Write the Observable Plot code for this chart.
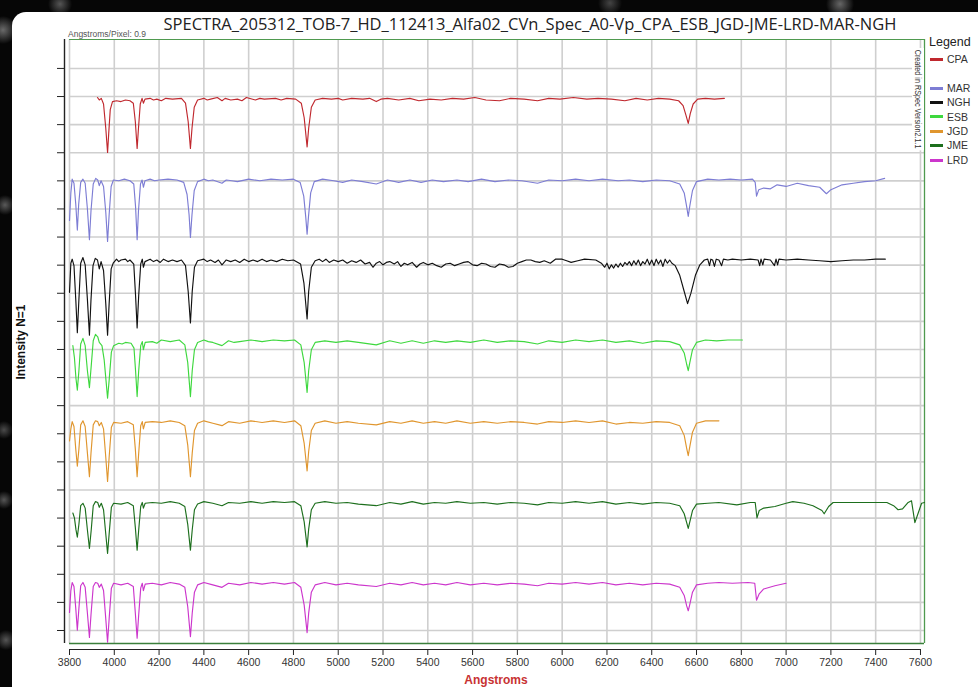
<!DOCTYPE html>
<html>
<head>
<meta charset="utf-8">
<script src="https://cdn.jsdelivr.net/npm/d3@7"></script>
<script src="https://cdn.jsdelivr.net/npm/@observablehq/plot@0.6"></script>
<style>
  html, body { margin: 0; padding: 0; }
  body {
    width: 978px; height: 687px; overflow: hidden; position: relative;
    background:
      radial-gradient(circle at 3px 30px, #6a6a6a 0, rgba(0,0,0,0) 14px),
      radial-gradient(circle at 5px 205px, #5a5a5a 0, rgba(0,0,0,0) 10px),
      radial-gradient(circle at 4px 430px, #4a4a4a 0, rgba(0,0,0,0) 9px),
      radial-gradient(circle at 4px 500px, #555 0, rgba(0,0,0,0) 9px),
      radial-gradient(circle at 6px 640px, #555 0, rgba(0,0,0,0) 10px),
      radial-gradient(circle at 60px 4px, #555 0, rgba(0,0,0,0) 12px),
      radial-gradient(circle at 610px 3px, #444 0, rgba(0,0,0,0) 12px),
      radial-gradient(circle at 840px 4px, #666 0, rgba(0,0,0,0) 14px),
      #060606;
    font-family: "Liberation Sans", Arial, sans-serif;
  }
  #panel { position: absolute; left: 12px; top: 12px; right: 0; bottom: 0; background: #fff; border-top-left-radius: 14px; }
  #chart { position: absolute; left: 0; top: 0; }
  .abs { position: absolute; white-space: nowrap; }
  #title { left: 530px; top: 12px; transform: translateX(-50%); font-family: "Open Sans", sans-serif; font-size: 16.5px; color: #222; }
  #app { left: 68px; top: 29px; font-size: 8.5px; color: #555; }
  #ylab { left: 21px; top: 342px; transform: translate(-50%, -50%) rotate(-90deg); font-weight: bold; font-size: 12px; color: #111; }
  #xlab { left: 496px; top: 673px; transform: translateX(-50%); font-weight: bold; font-size: 12px; color: #c83232; }
  #rspec { left: 912px; top: 48px; writing-mode: vertical-rl; font-size: 8.4px; color: #333; background: #fff; padding: 2px 1px; transform: scaleY(0.86); transform-origin: top; }
  #legtitle { left: 929px; top: 35px; font-size: 12.5px; color: #222; }
  .legitem { left: 930px; font-size: 10.5px; color: #333; }
  .legitem span { display: inline-block; width: 13px; height: 3px; vertical-align: middle; margin-right: 4px; position: relative; top: -1px; }
</style>
</head>
<body>
<div id="panel"></div>
<div id="chart"></div>
<div id="title" class="abs">SPECTRA_205312_TOB-7_HD_112413_Alfa02_CVn_Spec_A0-Vp_CPA_ESB_JGD-JME-LRD-MAR-NGH</div>
<div id="app" class="abs">Angstroms/Pixel: 0.9</div>
<div id="ylab" class="abs">Intensity N=1</div>
<div id="xlab" class="abs">Angstroms</div>
<div id="rspec" class="abs">Created in RSpec Version2.1.1</div>
<div id="legtitle" class="abs">Legend</div>
<div id="legend"></div>
<script>
// ---- series names, colours, vertical offsets ----
const seriesNames = ["CPA", "MAR", "NGH", "ESB", "JGD", "JME", "LRD"];
const seriesColors = ["#c0282e", "#7d7dd4", "#111111", "#3ed83e", "#e0962e", "#1d6f1d", "#cc36cc"];
const seriesOffsets = [6, 5, 4, 3, 2, 1, 0];
const legendSlots = [0, 2, 3, 4, 5, 6, 7];

// ---- x ticks (Angstroms) ----
const xTickValues = [3800,4000,4200,4400,4600,4800,5000,5200,5400,5600,5800,6000,6200,6400,6600,6800,7000,7200,7400,7600];

// ---- spectra: [wavelength (A), normalised intensity] ----
const CPA = [[3925,1.00],[3933,0.97],[3942,0.99],[3952,0.92],[3962,0.62],[3970,0.32],[3975,0.55],[3982,0.85],[3992,0.95],[4010,0.96],[4030,0.95],[4050,0.97],[4070,0.96],[4085,0.93],[4094,0.7],[4102,0.37],[4108,0.62],[4116,0.92],[4124,0.99],[4130,0.93],[4137,0.98],[4160,0.99],[4175,0.97],[4190,0.98],[4210,0.96],[4230,0.99],[4260,0.98],[4300,0.99],[4318,0.93],[4330,0.7],[4340,0.37],[4347,0.62],[4357,0.88],[4372,0.97],[4400,0.99],[4415,0.97],[4430,0.98],[4460,1.00],[4481,0.96],[4495,0.99],[4520,0.97],[4550,0.98],[4570,0.96],[4590,1.00],[4630,0.97],[4650,0.99],[4670,0.98],[4720,0.99],[4745,0.97],[4770,0.99],[4810,0.98],[4835,0.93],[4848,0.75],[4861,0.39],[4868,0.62],[4880,0.88],[4897,0.97],[4930,0.99],[4970,0.98],[5000,0.99],[5020,0.97],[5060,0.99],[5110,0.98],[5140,0.99],[5170,0.95],[5190,0.98],[5220,0.99],[5270,0.97],[5320,0.99],[5360,0.96],[5410,0.98],[5460,0.97],[5510,0.99],[5560,0.98],[5610,1.00],[5660,0.97],[5720,0.96],[5770,0.99],[5830,0.98],[5890,0.96],[5940,0.99],[5990,0.98],[6050,1.00],[6110,0.98],[6160,0.99],[6220,0.98],[6280,0.96],[6330,0.99],[6380,0.97],[6430,0.99],[6480,0.98],[6520,0.96],[6540,0.9],[6553,0.78],[6563,0.68],[6572,0.8],[6585,0.92],[6605,0.98],[6640,0.99],[6680,0.98],[6724,0.99]];

const MAR = [[3800,0.48],[3806,0.82],[3812,0.99],[3820,0.94],[3828,0.68],[3835,0.36],[3841,0.68],[3850,0.95],[3860,0.99],[3870,0.94],[3880,0.62],[3889,0.24],[3896,0.6],[3906,0.93],[3917,1.00],[3926,0.98],[3933,0.91],[3941,0.97],[3952,0.9],[3962,0.58],[3970,0.22],[3977,0.55],[3986,0.9],[3996,0.98],[4020,0.97],[4045,0.99],[4070,0.97],[4087,0.93],[4095,0.65],[4102,0.24],[4108,0.6],[4117,0.93],[4124,0.98],[4130,0.89],[4137,0.97],[4160,0.99],[4180,0.97],[4200,0.98],[4240,0.99],[4280,0.98],[4310,0.95],[4325,0.8],[4334,0.55],[4340,0.27],[4347,0.55],[4357,0.85],[4372,0.96],[4400,0.99],[4420,0.97],[4440,0.98],[4481,0.94],[4500,0.98],[4525,0.97],[4550,0.96],[4600,0.99],[4650,0.97],[4700,0.99],[4750,0.98],[4800,0.99],[4830,0.95],[4846,0.78],[4855,0.52],[4861,0.31],[4867,0.52],[4877,0.82],[4893,0.96],[4930,0.99],[4980,0.97],[5020,0.95],[5060,0.98],[5110,0.96],[5170,0.93],[5220,0.98],[5270,0.95],[5320,0.98],[5370,0.95],[5420,0.98],[5470,0.96],[5530,0.98],[5580,0.96],[5640,0.99],[5700,0.96],[5760,0.98],[5820,0.97],[5890,0.94],[5940,0.98],[6000,0.97],[6060,0.99],[6120,0.97],[6180,0.99],[6250,0.97],[6300,0.98],[6360,0.96],[6420,0.98],[6480,0.97],[6525,0.93],[6545,0.82],[6556,0.65],[6563,0.53],[6570,0.66],[6582,0.85],[6600,0.96],[6650,0.99],[6700,0.98],[6750,0.99],[6800,0.98],[6850,0.99],[6862,0.95],[6868,0.78],[6878,0.86],[6900,0.88],[6930,0.87],[6960,0.92],[7000,0.9],[7050,0.94],[7100,0.91],[7150,0.89],[7180,0.81],[7200,0.86],[7250,0.92],[7300,0.94],[7350,0.96],[7400,0.97],[7440,1.00]];

const NGH = [[3800,0.59],[3806,0.95],[3812,1.00],[3820,0.92],[3828,0.5],[3835,0.09],[3842,0.5],[3850,0.95],[3860,1.02],[3870,0.93],[3880,0.5],[3889,0.06],[3896,0.5],[3905,0.92],[3915,1.01],[3925,0.99],[3933,0.88],[3941,0.97],[3952,0.86],[3962,0.45],[3970,0.06],[3977,0.45],[3986,0.88],[3995,0.95],[4010,1.0],[4020,0.97],[4030,0.99],[4050,1.0],[4060,0.97],[4070,0.99],[4087,0.94],[4095,0.55],[4102,0.15],[4109,0.55],[4118,0.94],[4125,1.0],[4130,0.9],[4137,0.97],[4160,1.0],[4175,0.97],[4190,0.99],[4205,0.96],[4220,1.0],[4240,0.97],[4260,0.99],[4280,0.97],[4300,0.99],[4318,0.92],[4330,0.6],[4340,0.21],[4348,0.6],[4358,0.9],[4372,0.98],[4400,1.0],[4415,0.97],[4430,0.99],[4450,0.96],[4465,0.99],[4481,0.93],[4500,0.99],[4520,0.97],[4540,0.99],[4560,0.96],[4580,1.0],[4600,0.97],[4620,0.99],[4640,0.97],[4660,1.0],[4680,0.97],[4700,0.99],[4725,0.97],[4750,1.0],[4775,0.98],[4800,0.99],[4832,0.94],[4847,0.7],[4861,0.26],[4868,0.6],[4880,0.9],[4897,0.98],[4915,1.0],[4930,0.97],[4945,1.0],[4960,0.96],[4980,0.99],[5000,0.97],[5020,0.99],[5040,0.95],[5060,0.98],[5080,0.96],[5100,0.99],[5120,0.94],[5140,0.96],[5155,0.9],[5170,0.95],[5185,0.97],[5200,0.93],[5215,0.96],[5230,0.97],[5250,0.94],[5265,0.97],[5280,0.91],[5295,0.95],[5310,0.93],[5330,0.96],[5350,0.9],[5365,0.94],[5380,0.96],[5400,0.93],[5420,0.95],[5440,0.92],[5460,0.9],[5480,0.94],[5500,0.95],[5520,0.92],[5540,0.94],[5560,0.96],[5580,0.97],[5600,0.93],[5620,0.92],[5640,0.95],[5660,0.94],[5680,0.91],[5700,0.9],[5720,0.94],[5740,0.93],[5760,0.9],[5780,0.91],[5800,0.95],[5820,0.97],[5840,0.99],[5860,0.99],[5880,0.97],[5900,0.96],[5920,0.98],[5947,0.95],[5970,1.0],[6000,1.0],[6020,0.98],[6040,0.96],[6070,0.98],[6100,1.0],[6150,0.99],[6175,0.95],[6190,0.9],[6200,0.95],[6210,0.88],[6220,0.93],[6230,0.89],[6240,0.94],[6250,0.9],[6260,0.95],[6270,0.91],[6280,0.96],[6290,0.93],[6300,0.97],[6310,0.92],[6320,0.98],[6330,0.93],[6340,0.99],[6350,0.92],[6360,0.97],[6370,0.94],[6380,1.0],[6390,0.93],[6400,0.99],[6410,0.92],[6420,1.0],[6430,0.94],[6440,0.99],[6450,0.91],[6460,1.0],[6470,0.95],[6480,0.99],[6490,0.95],[6505,0.92],[6525,0.8],[6545,0.6],[6560,0.45],[6575,0.58],[6595,0.8],[6615,0.93],[6635,0.99],[6650,1.0],[6658,0.92],[6664,1.0],[6672,0.99],[6680,0.91],[6688,1.0],[6700,0.99],[6712,0.92],[6720,1.0],[6740,0.99],[6760,1.0],[6800,0.99],[6840,1.0],[6875,0.99],[6882,0.92],[6888,1.0],[6896,0.93],[6902,1.0],[6930,0.99],[6948,0.92],[6955,1.0],[6962,0.93],[6968,1.0],[7000,0.99],[7050,1.0],[7100,0.99],[7150,0.98],[7200,0.97],[7250,0.98],[7300,0.99],[7350,0.99],[7400,1.0],[7443,1.0]];

const ESB = [[3815,0.93],[3822,0.78],[3829,0.52],[3835,0.38],[3842,0.62],[3850,0.95],[3860,1.02],[3870,0.93],[3880,0.62],[3889,0.41],[3897,0.68],[3906,0.99],[3916,1.07],[3926,1.04],[3933,0.97],[3945,0.93],[3955,0.75],[3963,0.5],[3970,0.28],[3977,0.5],[3987,0.85],[3997,0.93],[4020,0.96],[4035,0.95],[4050,0.97],[4075,0.96],[4088,0.9],[4095,0.62],[4102,0.30],[4109,0.62],[4118,0.93],[4125,0.98],[4130,0.88],[4138,0.97],[4170,0.98],[4190,0.96],[4210,1.0],[4250,0.98],[4290,1.0],[4315,0.94],[4328,0.72],[4340,0.30],[4348,0.62],[4358,0.88],[4372,0.97],[4400,1.0],[4420,0.98],[4440,0.97],[4481,0.93],[4510,0.99],[4535,0.97],[4560,0.98],[4610,1.0],[4660,0.98],[4710,1.0],[4760,0.99],[4805,1.0],[4833,0.94],[4848,0.72],[4861,0.35],[4868,0.62],[4880,0.88],[4897,0.97],[4940,0.99],[4990,0.97],[5040,0.99],[5090,0.97],[5170,0.94],[5230,0.99],[5280,0.96],[5330,0.99],[5380,0.96],[5430,0.99],[5480,0.97],[5530,0.99],[5590,0.97],[5650,1.0],[5710,0.97],[5770,0.99],[5830,0.98],[5890,0.95],[5940,0.99],[6000,0.97],[6060,1.0],[6120,0.98],[6180,1.0],[6240,0.97],[6300,0.99],[6360,0.96],[6420,0.99],[6480,0.98],[6525,0.94],[6545,0.84],[6556,0.7],[6563,0.62],[6570,0.72],[6582,0.88],[6600,0.97],[6640,1.0],[6690,0.99],[6740,1.0],[6805,1.0]];

const JGD = [[3800,0.75],[3806,0.9],[3812,0.99],[3820,0.93],[3828,0.65],[3835,0.44],[3842,0.65],[3850,0.95],[3860,1.0],[3870,0.93],[3880,0.6],[3889,0.31],[3896,0.6],[3906,0.95],[3916,1.0],[3926,0.99],[3933,0.94],[3942,0.98],[3952,0.9],[3962,0.55],[3970,0.25],[3977,0.55],[3987,0.92],[3997,0.98],[4030,0.97],[4060,0.99],[4085,0.95],[4094,0.65],[4102,0.31],[4109,0.6],[4118,0.94],[4125,0.99],[4130,0.9],[4138,0.98],[4170,0.99],[4210,0.98],[4250,1.0],[4290,0.98],[4315,0.94],[4328,0.7],[4340,0.31],[4348,0.6],[4358,0.88],[4372,0.97],[4400,1.0],[4440,0.97],[4481,0.94],[4510,0.99],[4560,0.97],[4610,1.0],[4660,0.98],[4710,1.0],[4760,0.98],[4805,1.0],[4833,0.94],[4848,0.72],[4861,0.38],[4868,0.62],[4880,0.88],[4897,0.97],[4940,1.0],[4990,0.97],[5040,0.99],[5090,0.97],[5170,0.95],[5230,0.99],[5280,0.97],[5330,1.0],[5380,0.97],[5430,0.99],[5480,0.97],[5530,1.0],[5590,0.97],[5650,0.99],[5710,0.97],[5770,0.99],[5830,0.98],[5890,0.96],[5940,0.99],[6000,0.98],[6060,1.0],[6120,0.98],[6180,1.0],[6240,0.96],[6300,0.98],[6360,0.97],[6420,0.99],[6480,0.98],[6525,0.94],[6545,0.82],[6556,0.66],[6563,0.57],[6570,0.68],[6582,0.86],[6600,0.97],[6640,1.0],[6700,1.0]];

const JME = [[3815,0.86],[3822,0.8],[3829,0.65],[3835,0.56],[3842,0.72],[3850,0.95],[3860,0.98],[3870,0.92],[3880,0.65],[3889,0.42],[3897,0.65],[3906,0.95],[3916,1.0],[3926,0.99],[3933,0.93],[3942,0.98],[3952,0.9],[3962,0.6],[3970,0.36],[3977,0.6],[3987,0.93],[3997,0.98],[4030,0.97],[4060,0.99],[4085,0.95],[4094,0.68],[4102,0.40],[4109,0.65],[4118,0.94],[4125,0.99],[4130,0.92],[4138,0.98],[4170,0.99],[4210,0.98],[4250,1.0],[4290,0.98],[4315,0.94],[4328,0.72],[4340,0.40],[4348,0.65],[4358,0.9],[4372,0.97],[4400,1.0],[4440,0.98],[4481,0.95],[4510,0.99],[4560,0.98],[4610,1.0],[4660,0.98],[4710,1.0],[4760,0.99],[4805,1.0],[4833,0.95],[4848,0.75],[4861,0.44],[4868,0.66],[4880,0.9],[4897,0.98],[4940,1.0],[4990,0.98],[5040,0.99],[5090,0.97],[5170,0.95],[5230,0.99],[5280,0.97],[5330,1.0],[5380,0.97],[5430,0.99],[5480,0.98],[5530,1.0],[5590,0.98],[5650,0.99],[5710,0.97],[5770,0.99],[5830,0.98],[5890,0.96],[5940,0.99],[6000,0.98],[6060,1.0],[6120,0.98],[6180,1.0],[6240,0.97],[6300,0.99],[6360,0.97],[6420,0.99],[6480,0.98],[6525,0.95],[6545,0.85],[6556,0.74],[6563,0.67],[6570,0.75],[6582,0.89],[6600,0.97],[6650,0.98],[6700,0.99],[6780,0.96],[6840,0.99],[6862,0.99],[6870,0.80],[6880,0.89],[6900,0.92],[6950,0.94],[7000,0.98],[7030,1.0],[7080,0.98],[7120,0.95],[7160,0.89],[7170,0.85],[7190,0.94],[7210,0.99],[7300,0.99],[7400,0.99],[7450,0.99],[7480,0.95],[7500,0.9],[7520,0.91],[7545,0.99],[7560,1.01],[7575,0.74],[7590,0.86],[7605,0.98],[7618,0.99]];

const LRD = [[3800,0.63],[3806,0.9],[3812,1.0],[3820,0.95],[3828,0.68],[3835,0.41],[3842,0.68],[3850,0.96],[3860,1.0],[3870,0.94],[3880,0.62],[3889,0.32],[3896,0.6],[3906,0.95],[3916,1.0],[3926,0.99],[3933,0.94],[3942,0.98],[3952,0.9],[3962,0.55],[3970,0.26],[3977,0.55],[3987,0.93],[3997,0.99],[4030,0.97],[4060,0.99],[4085,0.95],[4094,0.62],[4102,0.31],[4109,0.6],[4118,0.93],[4125,0.99],[4130,0.9],[4138,0.98],[4170,0.99],[4210,0.97],[4250,1.0],[4290,0.98],[4315,0.94],[4328,0.7],[4340,0.33],[4348,0.62],[4358,0.88],[4372,0.97],[4400,1.0],[4440,0.97],[4481,0.94],[4510,0.99],[4560,0.97],[4610,1.0],[4660,0.98],[4710,1.0],[4760,0.98],[4805,1.0],[4833,0.94],[4848,0.72],[4861,0.38],[4868,0.62],[4880,0.88],[4897,0.97],[4940,1.0],[4990,0.97],[5040,0.99],[5090,0.97],[5170,0.95],[5230,0.99],[5280,0.97],[5330,1.0],[5380,0.97],[5430,0.99],[5480,0.97],[5530,1.0],[5590,0.97],[5650,0.99],[5710,0.97],[5770,0.99],[5830,0.98],[5890,0.96],[5940,0.99],[6000,0.98],[6060,1.0],[6120,0.98],[6180,1.0],[6240,0.97],[6300,0.99],[6360,0.97],[6420,0.99],[6480,0.98],[6525,0.94],[6545,0.84],[6556,0.71],[6563,0.65],[6570,0.73],[6582,0.88],[6600,0.97],[6650,0.99],[6700,1.0],[6760,0.99],[6830,1.0],[6860,0.99],[6868,0.78],[6880,0.86],[6900,0.92],[6950,0.96],[7000,0.99]];

const spectra = [CPA, MAR, NGH, ESB, JGD, JME, LRD];

// ---- build table ----
const table = [];
spectra.forEach((s, i) => s.forEach(([w, v]) => table.push({series: seriesNames[i], wavelength: w, value: v + seriesOffsets[i]})));

// y frame: unlabeled ticks every 0.3477 intensity units
const yDomain = [0.245, 7.718];
const yTickValues = d3.range(21).map(k => 0.406 + k * 0.3477);
const xDomain = [3800, 7618];
const frameGreen = "#4f9a4f";
const gridGrey = "#cfcfcf";

const chart = Plot.plot({
  width: 978,
  height: 687,
  marginLeft: 69,
  marginRight: 54,
  marginTop: 39,
  marginBottom: 44,
  style: {background: "transparent", fontFamily: "'Liberation Sans', Arial, sans-serif", color: "#333"},
  x: {domain: xDomain, label: null},
  y: {domain: yDomain, label: null},
  color: {domain: seriesNames, range: seriesColors},
  marks: [
    Plot.gridX(xTickValues, {stroke: gridGrey, strokeOpacity: 1, strokeWidth: 1.6}),
    Plot.gridY(yTickValues, {stroke: gridGrey, strokeOpacity: 1, strokeWidth: 1.6}),
    Plot.ruleY([yDomain[1]], {stroke: frameGreen, strokeWidth: 1.2}),
    Plot.ruleY([yDomain[0]], {stroke: "#3a7f3a", strokeWidth: 1.3}),
    Plot.ruleX([xDomain[1]], {stroke: frameGreen, strokeWidth: 1.3}),
    Plot.line(table, {x: "wavelength", y: "value", z: "series", stroke: "series", strokeWidth: 1.15, curve: "linear"}),
    Plot.axisX(xTickValues, {anchor: "bottom", dy: 6, tickSize: 6, tickPadding: 3, tickFormat: d => String(d), fontSize: 10.5, fill: "#333", stroke: "#222", label: null}),
    Plot.ruleY([yDomain[0]], {x1: 3800, x2: 7600, dy: 6, stroke: "#222", strokeWidth: 1.2}),
    Plot.axisY(yTickValues, {anchor: "left", dx: -5, tickSize: 7, tickFormat: () => "", stroke: "#222", label: null}),
    Plot.ruleX([xDomain[0]], {dx: -5, stroke: "#222", strokeWidth: 1.4})
  ]
});
document.getElementById("chart").appendChild(chart);

// legend
const leg = document.getElementById("legend");
seriesNames.forEach((n, i) => {
  const d = document.createElement("div");
  d.className = "abs legitem";
  d.style.top = (53 + legendSlots[i] * 14.4) + "px";
  d.innerHTML = `<span style="background:${seriesColors[i]}"></span>${n}`;
  leg.appendChild(d);
});
</script>
</body>
</html>
